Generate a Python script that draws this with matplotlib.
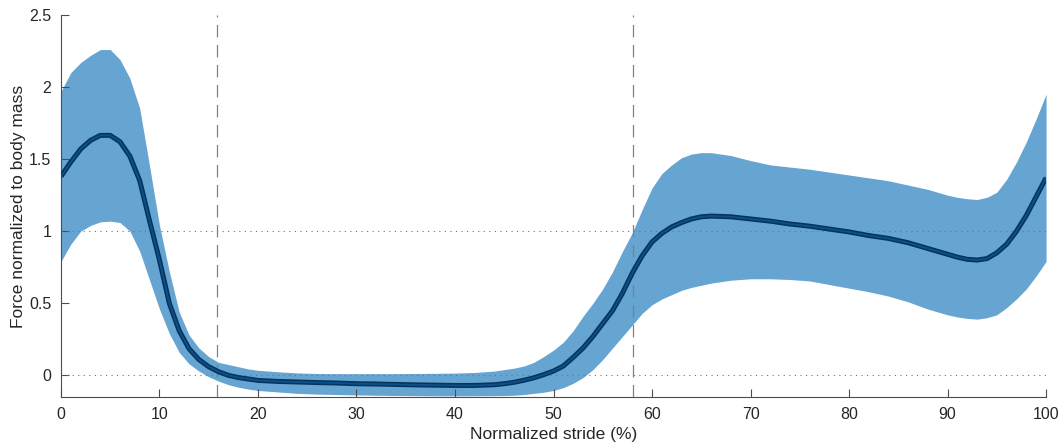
import numpy as np
import matplotlib.pyplot as plt

# stride positions (%)
stride = [0, 1, 2, 3, 4, 5, 6, 7, 8, 9, 10, 11, 12, 13, 14, 15, 16, 17, 18, 19, 20,
          22, 24, 26, 28, 30, 32, 34, 36, 38, 40, 42, 44, 45, 46, 47, 48, 49, 50,
          51, 52, 53, 54, 55, 56, 57, 58, 59, 60, 61, 62, 63, 64, 65, 66, 68, 70,
          72, 74, 76, 78, 80, 82, 84, 86, 88, 90, 91, 92, 93, 94, 95, 96, 97, 98, 99, 100]

force_mean = [1.38, 1.48, 1.57, 1.63, 1.665, 1.665, 1.62, 1.52, 1.35, 1.07, 0.80, 0.50, 0.31, 0.185, 0.11, 0.06, 0.025, 0.0, -0.015, -0.025, -0.035,
              -0.042, -0.046, -0.05, -0.053, -0.058, -0.06, -0.063, -0.066, -0.068, -0.07, -0.07, -0.065, -0.058, -0.048, -0.034, -0.017, 0.005, 0.03,
              0.065, 0.125, 0.19, 0.27, 0.36, 0.45, 0.57, 0.71, 0.83, 0.925, 0.985, 1.03, 1.06, 1.085, 1.10, 1.105, 1.10, 1.085,
              1.07, 1.05, 1.035, 1.015, 0.995, 0.97, 0.95, 0.92, 0.88, 0.84, 0.82, 0.805, 0.80, 0.81, 0.85, 0.91, 1.0, 1.11, 1.24, 1.37]

force_upper = [1.97, 2.10, 2.17, 2.22, 2.26, 2.26, 2.19, 2.06, 1.85, 1.45, 1.04, 0.72, 0.44, 0.28, 0.19, 0.13, 0.09, 0.075, 0.06, 0.045, 0.035,
               0.025, 0.017, 0.013, 0.012, 0.012, 0.012, 0.012, 0.013, 0.014, 0.016, 0.02, 0.03, 0.04, 0.05, 0.065, 0.09, 0.13, 0.175,
               0.23, 0.31, 0.41, 0.50, 0.60, 0.72, 0.86, 0.99, 1.15, 1.30, 1.40, 1.46, 1.51, 1.535, 1.545, 1.545, 1.525, 1.49,
               1.46, 1.445, 1.43, 1.41, 1.39, 1.37, 1.35, 1.32, 1.29, 1.25, 1.235, 1.225, 1.22, 1.235, 1.27, 1.36, 1.48, 1.62, 1.78, 1.95]

force_lower = [0.79, 0.91, 1.0, 1.04, 1.065, 1.07, 1.06, 1.0, 0.86, 0.66, 0.46, 0.29, 0.16, 0.08, 0.03, -0.01, -0.04, -0.065, -0.082, -0.095, -0.105,
               -0.115, -0.125, -0.13, -0.133, -0.136, -0.138, -0.14, -0.141, -0.142, -0.142, -0.142, -0.141, -0.14, -0.138, -0.133, -0.125, -0.117, -0.105,
               -0.085, -0.055, -0.015, 0.04, 0.11, 0.19, 0.27, 0.35, 0.43, 0.49, 0.53, 0.56, 0.59, 0.61, 0.625, 0.64, 0.66, 0.67,
               0.67, 0.665, 0.655, 0.63, 0.605, 0.58, 0.55, 0.51, 0.46, 0.42, 0.405, 0.395, 0.39, 0.40, 0.42, 0.47, 0.53, 0.60, 0.69, 0.79]

# gait event markers
events = [15.8, 58.1]

plt.rcParams['font.family'] = ['Liberation Sans', 'DejaVu Sans']

fig = plt.figure(figsize=(10.62, 4.46), dpi=100)
ax = fig.add_axes([0.0574, 0.1099, 0.9276, 0.8565])

ax.fill_between(stride, force_lower, force_upper, color='#66a4d2', linewidth=0, zorder=1)

for y in [0, 1]:
    ax.axhline(y, color='0.45', linestyle=(0, (1, 4)), linewidth=0.8, zorder=2)
for x in events:
    ax.axvline(x, color='0.5', linestyle=(0, (10, 6)), linewidth=0.9, zorder=2)

ax.plot(stride, force_mean, color='#04335c', linewidth=3.6, solid_capstyle='butt', zorder=3)
ax.plot(stride, force_mean, color='#0c5088', linewidth=1.4, zorder=4)

ax.set_xlim(0, 100)
ax.set_ylim(-0.15, 2.5)
ax.set_xticks(np.arange(0, 101, 10))
ax.set_yticks([0, 0.5, 1, 1.5, 2, 2.5])
ax.set_yticklabels(['0', '0.5', '1', '1.5', '2', '2.5'])

for s in ['top', 'right']:
    ax.spines[s].set_visible(False)
for s in ['left', 'bottom']:
    ax.spines[s].set_color('0.3')
    ax.spines[s].set_linewidth(0.8)

ax.tick_params(direction='in', length=6, width=0.8, color='0.3', labelsize=11.5,
               labelcolor='#262626', pad=7)

ax.set_xlabel('Normalized stride (%)', fontsize=12.5, color='#262626', labelpad=4)
ax.set_ylabel('Force normalized to body mass', fontsize=12.5, color='#262626', labelpad=2)

fig.savefig('out.png', dpi=100)
